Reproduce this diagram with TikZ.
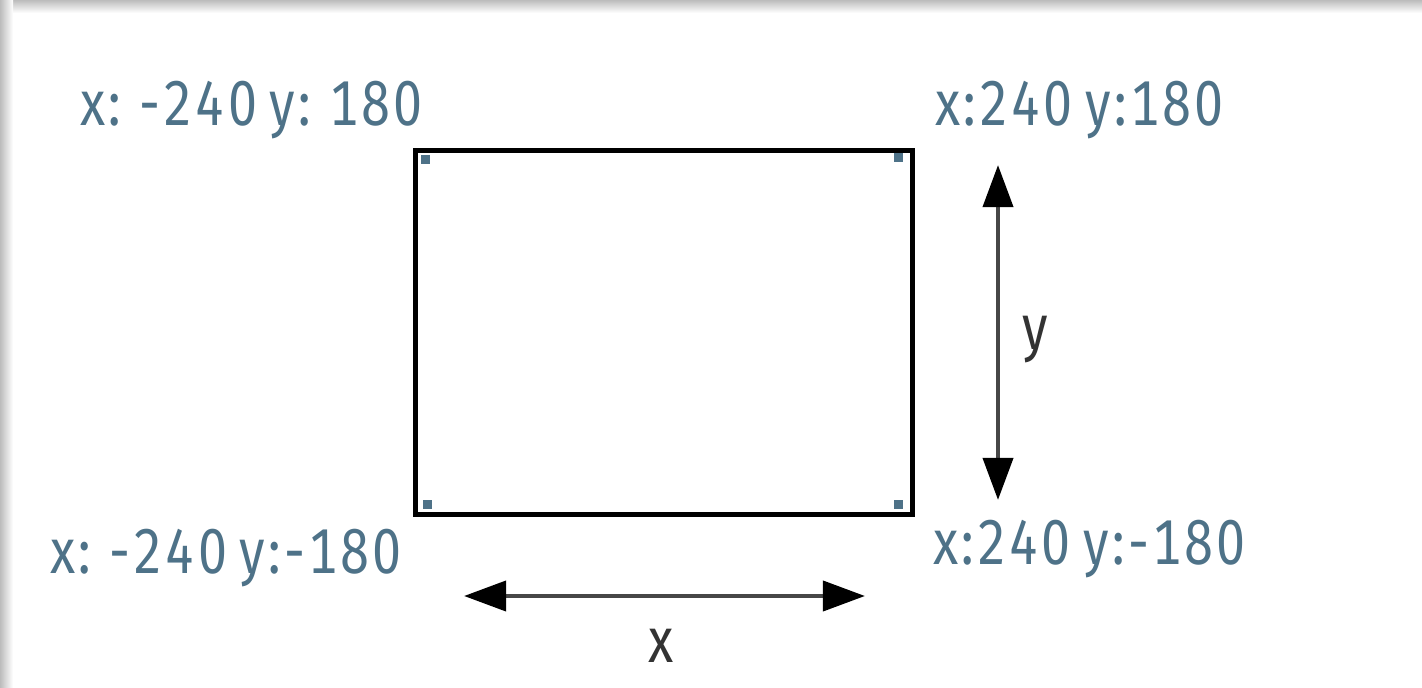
\documentclass[tikz,border=0pt]{standalone}
\usepackage{fontspec}
\setmainfont{Fira Sans}[FakeStretch=0.82, Numbers=Monospaced, LetterSpace=5, WordSpace=0.75]
\usetikzlibrary{arrows.meta, positioning}

\definecolor{coordblue}{RGB}{78,114,136}
\definecolor{framegray}{RGB}{188,188,188}

\begin{document}
\begin{tikzpicture}[
        x=0.02cm, y=-0.02cm,
        stage/.style={rectangle, draw=black, line width=2.7pt, minimum width=9.94cm, minimum height=7.28cm, inner sep=0pt},
        corner/.style={rectangle, fill=coordblue, minimum size=0.18cm, inner sep=0pt},
        coordlabel/.style={font=\fontsize{36}{42}\selectfont, text=coordblue, inner sep=0pt, anchor=base west},
        axislabel/.style={font=\fontsize{36}{42}\selectfont, text=black!80, inner sep=0pt, anchor=base},
        arrow/.style={{Triangle[length=24pt, width=17pt, black]}-{Triangle[length=24pt, width=17pt, black]}, line width=2.6pt, draw=black!72}
    ]
    \useasboundingbox (0,0) rectangle (1422,688);

    % Frame
    \fill[top color=framegray, bottom color=white] (0,0) rectangle (1422,13);
    \fill[left color=framegray, right color=white] (0,0) rectangle (13,688);

    % Stage
    \node[stage] (box) at (664,332.5) {};
    \node[corner] (dotnw) at ([shift={(12,11)}]box.north west) {};
    \node[corner] (dotne) at ([shift={(-16,9)}]box.north east) {};
    \node[corner] (dotsw) at ([shift={(14,-12)}]box.south west) {};
    \node[corner] (dotse) at ([shift={(-16,-12)}]box.south east) {};

    % Corner labels
    \node[coordlabel] (topleft) at (80,126) {x: -240 y: 180};
    \node[coordlabel] (topright) at (935,126) {x:240 y:180};
    \node[coordlabel] (bottomleft) at (50,573) {x: -240 y:-180};
    \node[coordlabel] (bottomright) at (933,564) {x:240 y:-180};

    % Axes
    \coordinate (ytop) at (998,165);
    \coordinate (ybottom) at (998,500);
    \coordinate (xleft) at (464,596);
    \coordinate (xright) at (865,596);
    \draw[arrow] (ytop) -- (ybottom);
    \draw[arrow] (xleft) -- (xright);
    \node[axislabel] (ylabel) at (1035,350) {y};
    \node[axislabel] (xlabel) at (661,662) {x};
\end{tikzpicture}
\end{document}
